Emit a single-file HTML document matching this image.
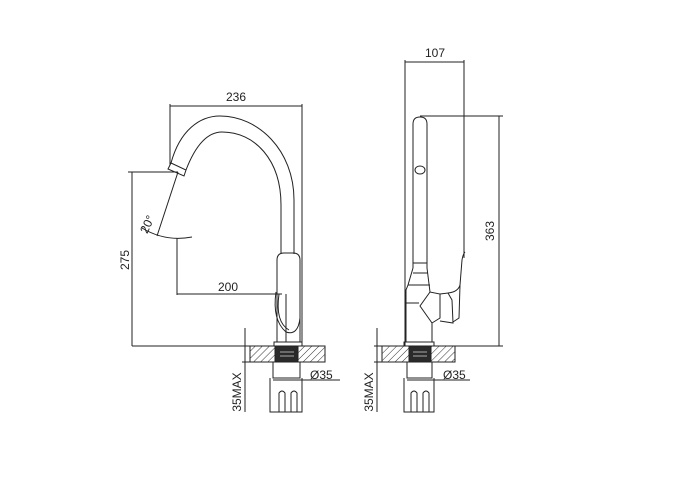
<!DOCTYPE html>
<html><head><style>
html,body{margin:0;padding:0;background:#fff;}
svg{display:block;}
text{font-family:"Liberation Sans",sans-serif;font-size:12px;fill:#222;}
</style></head><body>
<svg width="674" height="482" viewBox="0 0 674 482" xmlns="http://www.w3.org/2000/svg">
<defs>
<pattern id="h" width="5" height="5" patternUnits="userSpaceOnUse" patternTransform="rotate(45)">
<line x1="0" y1="0" x2="0" y2="5" stroke="#333" stroke-width="1"/>
</pattern>
</defs>
<g fill="none" stroke="#222" stroke-width="1">
<line x1="170" y1="104" x2="170" y2="165"/>
<line x1="302" y1="104" x2="302" y2="346"/>
<line x1="170" y1="106" x2="302" y2="106"/>
<path d="M171 163 C180 130 200 116 220 116 C258 116 294 150 294 200 L294 254"/>
<path d="M186 170 C196 144 208 132 222 132 C255 132 281 160 281 205 L281 254"/>
<path d="M171 163 L186 170 L184 176 L168 169 Z"/>
<path d="M277 342 L277 260 Q277 253 284 253 L293 253 Q300 253 300 260 L300 342"/>
<path d="M276 292 Q272 320 286 332 Q298 336 300 318"/>
<path d="M279 294 Q275 322 289 330"/>
<line x1="286" y1="294" x2="286" y2="342"/>
<rect x="274" y="342" width="28" height="4"/>
<line x1="132" y1="172" x2="132" y2="346"/>
<line x1="128" y1="172" x2="178" y2="172"/>
<line x1="132" y1="346" x2="302" y2="346"/>
<line x1="178" y1="172" x2="157" y2="236"/>
<path d="M142 228 Q165 242 192 237"/>
<line x1="177" y1="238" x2="177" y2="295"/>
<line x1="177" y1="294" x2="282" y2="294"/>
<rect x="250" y="346" width="75" height="16" fill="url(#h)"/>
<rect x="275" y="346" width="23" height="16" fill="#2a2a2a"/>
<line x1="280" y1="352" x2="294" y2="352" stroke="#aaa"/>
<line x1="280" y1="356" x2="294" y2="356" stroke="#aaa"/>
<rect x="273" y="362" width="27" height="16"/>
<line x1="273" y1="380" x2="340" y2="380"/>
<path d="M270 378 L270 412 L302 412 L302 378"/>
<path d="M279 412 L279 393 Q282 389 285 393 L285 412 M291 412 L291 393 Q294 389 297 393 L297 412"/>
<line x1="245" y1="328" x2="245" y2="412"/>
<line x1="242" y1="346" x2="250" y2="346"/>
<line x1="242" y1="362" x2="250" y2="362"/>

<line x1="405" y1="60" x2="405" y2="346"/>
<line x1="464" y1="60" x2="464" y2="258"/>
<line x1="405" y1="62" x2="464" y2="62"/>
<path d="M413 268 L413 124 Q413 117 420 117 Q427 117 427 124 L427 268"/>
<ellipse cx="420" cy="170" rx="5" ry="4"/>
<line x1="413" y1="263" x2="427" y2="263"/>
<line x1="413" y1="273" x2="428" y2="273"/>
<path d="M413 268 L408 285 L406 290 L406 342 M427 268 L430 292"/>
<line x1="408" y1="285" x2="430" y2="285"/>
<line x1="406" y1="303" x2="419" y2="303"/>
<path d="M430 292 L420 306 L432 323 L440 318 L440 294 Z"/>
<line x1="432" y1="323" x2="432" y2="342"/>
<path d="M440 294 L448 293 L452 300 L453 323 L440 321"/>
<path d="M448 293 Q458 292 460 285 L462 260 Q463 254 465 252 M460 285 L459 318 L453 322"/>
<rect x="404" y="342" width="30" height="4"/>
<line x1="420" y1="116" x2="503" y2="116"/>
<line x1="499" y1="116" x2="499" y2="346"/>
<line x1="405" y1="346" x2="503" y2="346"/>
<rect x="382" y="346" width="73" height="16" fill="url(#h)"/>
<rect x="409" y="346" width="22" height="16" fill="#2a2a2a"/>
<line x1="413" y1="352" x2="427" y2="352" stroke="#aaa"/>
<line x1="413" y1="356" x2="427" y2="356" stroke="#aaa"/>
<rect x="407" y="362" width="25" height="16"/>
<line x1="407" y1="380" x2="470" y2="380"/>
<path d="M404 378 L404 412 L434 412 L434 378"/>
<path d="M411 412 L411 393 Q414 389 417 393 L417 412 M423 412 L423 393 Q426 389 429 393 L429 412"/>
<line x1="377" y1="328" x2="377" y2="412"/>
<line x1="374" y1="346" x2="382" y2="346"/>
<line x1="374" y1="362" x2="382" y2="362"/>
</g>
<text x="236" y="101" text-anchor="middle">236</text>
<text x="228" y="291" text-anchor="middle">200</text>
<text transform="translate(129,260) rotate(-90)" text-anchor="middle">275</text>
<text transform="translate(151,226) rotate(-65)" text-anchor="middle" font-size="11">20°</text>
<text x="310" y="379">Ø35</text>
<text transform="translate(241,392) rotate(-90)" text-anchor="middle">35MAX</text>
<text x="435" y="57" text-anchor="middle">107</text>
<text transform="translate(494,231) rotate(-90)" text-anchor="middle">363</text>
<text x="443" y="379">Ø35</text>
<text transform="translate(373,392) rotate(-90)" text-anchor="middle">35MAX</text>
</svg>
</body></html>
